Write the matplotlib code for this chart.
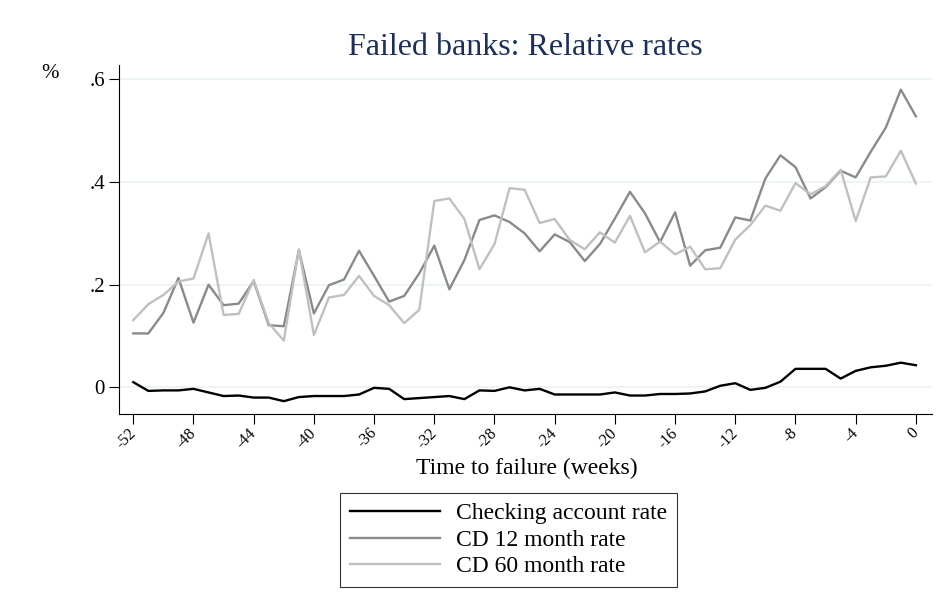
import numpy as np
import matplotlib.pyplot as plt

weeks = np.arange(-52, 1)

checking = [0.010, -0.007, -0.006, -0.006, -0.003, -0.010, -0.017, -0.016, -0.020, -0.020,
            -0.027, -0.019, -0.017, -0.017, -0.017, -0.014, -0.001, -0.003, -0.023, -0.021,
            -0.019, -0.017, -0.023, -0.006, -0.007, 0.000, -0.006, -0.003, -0.014, -0.014,
            -0.014, -0.014, -0.010, -0.016, -0.016, -0.013, -0.013, -0.012, -0.008, 0.003,
            0.008, -0.005, -0.001, 0.011, 0.036, 0.036, 0.036, 0.017, 0.032, 0.039,
            0.042, 0.048, 0.043]

cd12 = [0.105, 0.105, 0.145, 0.213, 0.126, 0.200, 0.160, 0.163, 0.207, 0.121,
        0.119, 0.267, 0.144, 0.199, 0.210, 0.266, 0.217, 0.167, 0.178, 0.222,
        0.276, 0.191, 0.248, 0.326, 0.335, 0.322, 0.300, 0.265, 0.298, 0.283,
        0.246, 0.279, 0.329, 0.381, 0.339, 0.283, 0.341, 0.237, 0.267, 0.272,
        0.331, 0.325, 0.407, 0.452, 0.429, 0.368, 0.390, 0.422, 0.409, 0.459,
        0.506, 0.580, 0.528]

cd60 = [0.131, 0.162, 0.180, 0.206, 0.212, 0.300, 0.141, 0.143, 0.209, 0.125,
        0.091, 0.269, 0.102, 0.175, 0.180, 0.217, 0.178, 0.160, 0.125, 0.151,
        0.363, 0.368, 0.328, 0.230, 0.279, 0.388, 0.385, 0.320, 0.328, 0.287,
        0.269, 0.302, 0.282, 0.334, 0.263, 0.284, 0.259, 0.274, 0.230, 0.232,
        0.288, 0.316, 0.354, 0.344, 0.398, 0.376, 0.392, 0.424, 0.324, 0.409,
        0.411, 0.461, 0.397]

xticks = np.arange(-52, 1, 4)
yticks = [0, 0.2, 0.4, 0.6]
ytick_labels = ["0", ".2", ".4", ".6"]

plt.rcParams["font.family"] = ["Liberation Serif", "DejaVu Serif"]

W, H = 948, 616
fig = plt.figure(figsize=(W / 100, H / 100), dpi=100)
ax = fig.add_axes([119 / W, 1 - 414 / H, (932 - 119) / W, (414 - 65) / H])

ax.plot(weeks, checking, color="black", lw=1.7, label="Checking account rate")
ax.plot(weeks, cd12, color="#8a8a8a", lw=1.7, label="CD 12 month rate")
ax.plot(weeks, cd60, color="#c0c0c0", lw=1.7, label="CD 60 month rate")

ax.set_xlim(-52.95, 1.07)
ax.set_ylim(-0.052, 0.628)
ax.set_xticks(xticks)
ax.set_xticklabels([str(t) for t in xticks], rotation=45, fontsize=11.5,
                   ha="right", va="center", rotation_mode="anchor")
ax.set_yticks(yticks)
ax.set_yticklabels(ytick_labels, fontsize=15)
ax.yaxis.grid(True, color="#eaf2f3", lw=1.2)
ax.set_axisbelow(True)
ax.tick_params(direction="out", length=7, width=0.8, color="black", pad=3)
ax.tick_params(axis="x", pad=5)
for s in ["top", "right"]:
    ax.spines[s].set_visible(False)
ax.spines["left"].set_linewidth(0.8)
ax.spines["bottom"].set_linewidth(0.8)

fig.text(526.5 / W, 1 - 474 / H, "Time to failure (weeks)", fontsize=17,
         ha="center", va="baseline")
fig.text(50 / W, 1 - 74 / H, "%", fontsize=15, ha="center", va="center")
fig.text(525.5 / W, 1 - 55 / H, "Failed banks: Relative rates", fontsize=23,
         color="#1c2f5c", ha="center", va="baseline")

leg = fig.legend(loc="center", bbox_to_anchor=(508.5 / W, 1 - 540 / H), fontsize=17,
                 handlelength=3.8, frameon=True, fancybox=False, edgecolor="black",
                 borderpad=0.4, labelspacing=0.22, handletextpad=0.7)
leg.get_frame().set_linewidth(0.8)

fig.savefig("out.png", dpi=100)
